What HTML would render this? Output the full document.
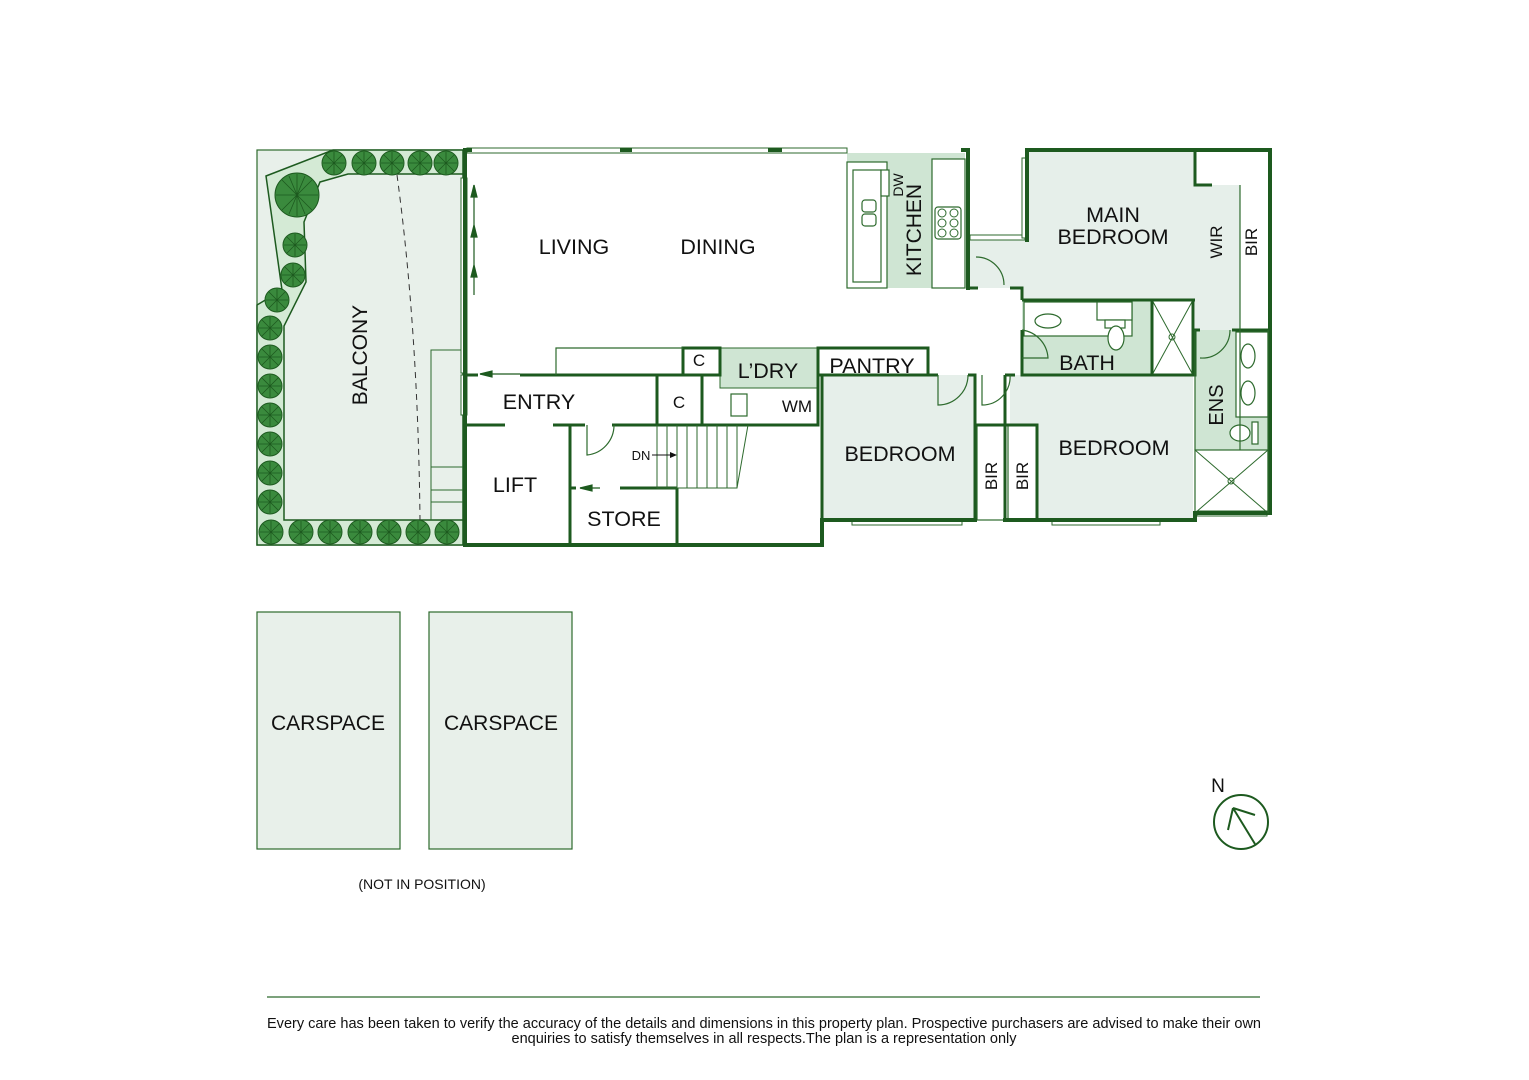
<!DOCTYPE html>
<html><head><meta charset="utf-8"><style>
html,body{margin:0;padding:0;background:#fff}
svg{display:block}
text{font-family:"Liberation Sans",Arial,sans-serif;fill:#111}
</style></head><body>
<svg width="1529" height="1080" viewBox="0 0 1529 1080" xmlns="http://www.w3.org/2000/svg">
<defs>
<g id="tr"><circle r="12" fill="#3a8a3d" stroke="#1d5a1f" stroke-width="1"/><path d="M0-11V11M-11 0H11M-8-8L8 8M8-8L-8 8" stroke="#1d5a1f" stroke-width="0.8"/></g>
<g id="trb"><circle r="22" fill="#3a8a3d" stroke="#1d5a1f" stroke-width="1"/><path d="M0-21V21M-21 0H21M-15-15L15 15M15-15L-15 15M-8-19L8 19M8-19L-8 19" stroke="#1d5a1f" stroke-width="0.8"/></g>
</defs>
<rect x="257" y="150" width="207" height="395" fill="#e8f0ea" stroke="#2d6a2d" stroke-width="1.2"/>
<path d="M266,176 L333,150 L463,150 L463,545 L257,545 L257,305 L282,290 Z M320,182 L348,174 L463,174 L463,520 L284,520 L284,326 L306,282 L304,222 Z" fill="#d4ead5" fill-rule="evenodd" stroke="#1d5a1f" stroke-width="1.5"/>
<use href="#trb" x="297" y="195"/>
<g>
<use href="#tr" x="334" y="163"/><use href="#tr" x="364" y="163"/><use href="#tr" x="392" y="163"/><use href="#tr" x="420" y="163"/><use href="#tr" x="446" y="163"/>
<use href="#tr" x="295" y="245"/><use href="#tr" x="293" y="275"/><use href="#tr" x="277" y="300"/>
<use href="#tr" x="270" y="328"/><use href="#tr" x="270" y="357"/><use href="#tr" x="270" y="386"/><use href="#tr" x="270" y="415"/><use href="#tr" x="270" y="444"/><use href="#tr" x="270" y="473"/><use href="#tr" x="270" y="502"/>
<use href="#tr" x="271" y="532"/><use href="#tr" x="301" y="532"/><use href="#tr" x="330" y="532"/><use href="#tr" x="360" y="532"/><use href="#tr" x="389" y="532"/><use href="#tr" x="418" y="532"/><use href="#tr" x="447" y="532"/>
</g>
<path d="M397,175 Q418,330 420,520" fill="none" stroke="#333" stroke-width="1" stroke-dasharray="6,5"/>
<path d="M431,520 V350 H463 M431,467 H463 M431,490 H463 M431,502 H463" fill="none" stroke="#2d6a2d" stroke-width="1"/>
<text x="360" y="355" font-size="21" text-anchor="middle" transform="rotate(-90 360 355)" dy="7">BALCONY</text>

<rect x="847" y="153" width="118" height="135" fill="#cfe5d3"/>
<path d="M970,240 H1027 V152 H1195 V185 H1240 V330 H1195 V300 H1022 V288 H970 Z" fill="#e6efea"/>
<rect x="1022" y="300" width="130" height="75" fill="#cfe5d3"/>
<rect x="1195" y="330" width="73" height="120" fill="#cfe5d3"/>
<rect x="822" y="375" width="153" height="145" fill="#e6efea"/>
<rect x="1010" y="375" width="183" height="145" fill="#e6efea"/>
<rect x="720" y="348" width="98" height="40" fill="#cfe5d3" stroke="#2d6a2d" stroke-width="1"/>

<g fill="#fff" stroke="#2d6a2d" stroke-width="1.2">
<rect x="847" y="162" width="40" height="126"/>
<rect x="853" y="170" width="28" height="112"/>
<rect x="881" y="170" width="8" height="26"/>
<rect x="932" y="159" width="33" height="129"/>
<rect x="935" y="207" width="26" height="32" rx="3"/>
<rect x="862" y="200" width="14" height="12" rx="3"/><rect x="862" y="214" width="14" height="12" rx="3"/>
</g>
<g fill="none" stroke="#2d6a2d" stroke-width="1"><circle cx="942" cy="213" r="4"/><circle cx="954" cy="213" r="4"/><circle cx="942" cy="223" r="4"/><circle cx="954" cy="223" r="4"/><circle cx="942" cy="233" r="4"/><circle cx="954" cy="233" r="4"/></g>

<g fill="#fff" stroke="#2d6a2d" stroke-width="1.2">
<rect x="1024" y="302" width="108" height="34"/>
<rect x="1097" y="302" width="35" height="18"/>
<rect x="1105" y="320" width="20" height="8"/>
<ellipse cx="1048" cy="321" rx="13" ry="7"/>
<ellipse cx="1116" cy="338" rx="8" ry="12"/>
<rect x="1152" y="300" width="41" height="75"/>
<rect x="1195" y="450" width="73" height="63"/>
<rect x="1236" y="332" width="32" height="85"/>
<ellipse cx="1248" cy="356" rx="7" ry="12"/><ellipse cx="1248" cy="393" rx="7" ry="12"/>
<ellipse cx="1240" cy="433" rx="10" ry="8"/>
<rect x="1252" y="422" width="6" height="22"/>
<rect x="731" y="394" width="16" height="22"/>
<rect x="977" y="425" width="28" height="95"/><rect x="1008" y="425" width="29" height="95"/>
</g>
<path d="M1152,300 L1193,375 M1193,300 L1152,375 M1195,450 L1268,513 M1268,450 L1195,513" stroke="#2d6a2d" stroke-width="1"/>
<circle cx="1172" cy="337" r="3" fill="none" stroke="#2d6a2d"/><circle cx="1231" cy="481" r="3" fill="none" stroke="#2d6a2d"/>

<g stroke="#2d6a2d" stroke-width="1" fill="#fff">
<rect x="467" y="148" width="380" height="5"/>
<rect x="852" y="520" width="110" height="5"/><rect x="1052" y="520" width="108" height="5"/>
<rect x="461" y="178" width="6" height="195"/><rect x="461" y="375" width="6" height="40"/>
<rect x="970" y="235" width="55" height="5"/><rect x="1022" y="158" width="5" height="80"/>
<rect x="1197" y="511" width="70" height="5"/>
</g>

<g fill="none" stroke="#1d5a1f" stroke-width="4" stroke-linecap="square">
<path d="M465,150 V545 H822 V520 H975 M1005,520 H1195 V513 H1270 V150 H1027 V240"/>
<path d="M968,150 V288"/>
<path d="M465,150 H470 M622,150 H630 M770,150 H780 M963,150 H968"/>
</g>
<g fill="none" stroke="#1d5a1f" stroke-width="3">
<path d="M968,240 V288 H978 M1010,288 H1022 V300 M1022,330 V375 H1195 V330 H1200 M1232,330 H1268"/>
<path d="M1193,300 V375 M1152,300 V375 M1022,300 H1195"/>
<path d="M1195,152 V185 H1212"/>
<path d="M822,375 V520 M822,375 H938 M968,375 H975 V520 M1005,375 H1015 M1005,375 V425 H1037 V520 M975,425 H1005 M1005,425 V520"/>
<path d="M465,375 H478 M520,375 H683 M465,425 H505 M553,425 H585 M612,425 H818 V375 M702,375 V425 M657,375 V425"/>
<path d="M570,425 V545 M677,488 V545 M570,488 H576 M620,488 H677"/>
<path d="M818,348 H928 V375 H818 Z M683,348 H720 V375 H683 Z"/>
</g>
<g fill="none" stroke="#2d6a2d" stroke-width="1.2">
<path d="M556,375 V348 H683"/>
<path d="M1240,185 V330 M1240,330 V450"/>
<path d="M1195,330 V450 M1268,330 V513"/>
</g>
<g fill="none" stroke="#2d6a2d" stroke-width="1.2">
<path d="M587,425 V455 A30,30 0 0 0 614,425"/>
<path d="M976,257 A28,28 0 0 1 1004,285"/>
<path d="M1022,330 A30,30 0 0 1 1048,358 H1022"/>
<path d="M1200,358 A28,28 0 0 0 1230,330"/>
<path d="M938,375 V405 A30,30 0 0 0 968,375"/>
<path d="M982,375 V405 A28,28 0 0 0 1010,375"/>
</g>
<g stroke="#2d6a2d" stroke-width="1" fill="none">
<path d="M657,425 V488 H737 L748,425"/>
<path d="M667,425V488M677,425V488M687,425V488M697,425V488M707,425V488M717,425V488M727,425V488M737,425V488"/>
<path d="M652,455 H673" stroke="#111"/>
</g>
<path d="M677,455 L670,452 V458 Z" fill="#111"/>
<text x="641" y="460" font-size="13" text-anchor="middle">DN</text>
<g fill="#1d5a1f" stroke="#1d5a1f" stroke-width="1.2">
<path d="M474,295 V185" fill="none"/><path d="M474,185 L471,197 H477 Z"/><path d="M474,225 L471,237 H477 Z"/><path d="M474,265 L471,277 H477 Z"/>
<path d="M480,374 H520" fill="none"/><path d="M480,374 L492,371 V377 Z"/>
<path d="M580,488 H600" fill="none"/><path d="M580,488 L592,485 V491 Z"/>
</g>

<g font-size="21.5" text-anchor="middle">
<text x="574" y="254">LIVING</text>
<text x="718" y="254">DINING</text>
<text x="539" y="409">ENTRY</text>
<text x="515" y="492">LIFT</text>
<text x="624" y="526">STORE</text>
<text x="768" y="378">L’DRY</text>
<text x="872" y="373">PANTRY</text>
<text x="900" y="461">BEDROOM</text>
<text x="1114" y="455">BEDROOM</text>
<text x="1113" y="222">MAIN</text>
<text x="1113" y="244">BEDROOM</text>
<text x="1087" y="370">BATH</text>
</g>
<g font-size="17" text-anchor="middle">
<text x="699" y="366">C</text><text x="679" y="408">C</text>
<text x="797" y="412">WM</text>
</g>
<text x="914" y="230" font-size="21" text-anchor="middle" transform="rotate(-90 914 230)" dy="7">KITCHEN</text>
<text x="898" y="185" font-size="14" text-anchor="middle" transform="rotate(-90 898 185)" dy="5">DW</text>
<text x="1216" y="242" font-size="17" text-anchor="middle" transform="rotate(-90 1216 242)" dy="6">WIR</text>
<text x="1251" y="242" font-size="17" text-anchor="middle" transform="rotate(-90 1251 242)" dy="6">BIR</text>
<text x="1216" y="405" font-size="20" text-anchor="middle" transform="rotate(-90 1216 405)" dy="7">ENS</text>
<text x="991" y="476" font-size="17" text-anchor="middle" transform="rotate(-90 991 476)" dy="6">BIR</text>
<text x="1022" y="476" font-size="17" text-anchor="middle" transform="rotate(-90 1022 476)" dy="6">BIR</text>

<rect x="257" y="612" width="143" height="237" fill="#e8f0ea" stroke="#2d6a2d" stroke-width="1.2"/>
<rect x="429" y="612" width="143" height="237" fill="#e8f0ea" stroke="#2d6a2d" stroke-width="1.2"/>
<text x="328" y="730" font-size="21" text-anchor="middle">CARSPACE</text>
<text x="501" y="730" font-size="21" text-anchor="middle">CARSPACE</text>
<text x="422" y="889" font-size="14" text-anchor="middle">(NOT IN POSITION)</text>

<text x="1218" y="792" font-size="19" text-anchor="middle">N</text>
<circle cx="1241" cy="822" r="27" fill="none" stroke="#1d5a1f" stroke-width="2"/>
<path d="M1255,844 L1233,808 M1233,808 L1228,830 M1233,808 L1255,815" fill="none" stroke="#1d5a1f" stroke-width="2"/>

<line x1="267" y1="997" x2="1260" y2="997" stroke="#2d6a2d" stroke-width="1.2"/>
<text x="764" y="1028" font-size="14.4" text-anchor="middle" textLength="994" lengthAdjust="spacingAndGlyphs">Every care has been taken to verify the accuracy of the details and dimensions in this property plan. Prospective purchasers are advised to make their own</text>
<text x="764" y="1043" font-size="14.4" text-anchor="middle" textLength="505" lengthAdjust="spacingAndGlyphs">enquiries to satisfy themselves in all respects.The plan is a representation only</text>
</svg>
</body></html>
